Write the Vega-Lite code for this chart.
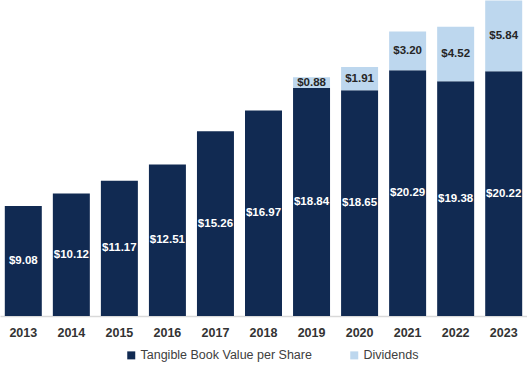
{
  "$schema": "https://vega.github.io/schema/vega-lite/v6.json",
  "width": 527,
  "height": 316,
  "padding": 0,
  "background": "white",
  "config": {"view": {"stroke": null}, "font": "Liberation Sans"},
  "data": {
    "values": [
      {"year": "2013", "series": "Tangible Book Value per Share", "value": 9.08},
      {"year": "2014", "series": "Tangible Book Value per Share", "value": 10.12},
      {"year": "2015", "series": "Tangible Book Value per Share", "value": 11.17},
      {"year": "2016", "series": "Tangible Book Value per Share", "value": 12.51},
      {"year": "2017", "series": "Tangible Book Value per Share", "value": 15.26},
      {"year": "2018", "series": "Tangible Book Value per Share", "value": 16.97},
      {"year": "2019", "series": "Tangible Book Value per Share", "value": 18.84},
      {"year": "2020", "series": "Tangible Book Value per Share", "value": 18.65},
      {"year": "2021", "series": "Tangible Book Value per Share", "value": 20.29},
      {"year": "2022", "series": "Tangible Book Value per Share", "value": 19.38},
      {"year": "2023", "series": "Tangible Book Value per Share", "value": 20.22},
      {"year": "2019", "series": "Dividends", "value": 0.88},
      {"year": "2020", "series": "Dividends", "value": 1.91},
      {"year": "2021", "series": "Dividends", "value": 3.20},
      {"year": "2022", "series": "Dividends", "value": 4.52},
      {"year": "2023", "series": "Dividends", "value": 5.84}
    ]
  },
  "transform": [
    {"stack": "value", "groupby": ["year"], "sort": [{"field": "series", "order": "descending"}], "as": ["v0", "v1"]},
    {"calculate": "(datum.v0 + datum.v1) / 2", "as": "mid"}
  ],
  "encoding": {
    "x": {
      "field": "year", "type": "nominal",
      "scale": {"paddingInner": 0.23, "paddingOuter": 0.1},
      "axis": {"title": null, "labelAngle": 0, "ticks": false, "domainColor": "#d9d9d9", "domainWidth": 1.5,
               "labelFontWeight": "bold", "labelFontSize": 12.5, "labelColor": "#333333", "labelPadding": 10, "labelFont": "Liberation Sans"}
    }
  },
  "layer": [
    {
      "mark": {"type": "bar"},
      "encoding": {
        "y": {"field": "v0", "type": "quantitative", "scale": {"domain": [0, 26.1], "nice": false}, "axis": null},
        "y2": {"field": "v1"},
        "color": {
          "field": "series", "type": "nominal",
          "scale": {"domain": ["Tangible Book Value per Share", "Dividends"], "range": ["#112a52", "#bdd7ee"]},
          "legend": {"title": null, "orient": "none", "legendX": 125, "legendY": 349, "direction": "horizontal",
                     "symbolType": "square", "symbolSize": 64, "labelFontSize": 12.5, "labelFont": "Liberation Sans",
                     "labelColor": "#404040", "columnPadding": 36, "labelOffset": 3, "symbolStrokeWidth": 0, "labelLimit": 0}
        }
      }
    },
    {
      "mark": {"type": "text", "fontWeight": "bold", "fontSize": 11.5, "font": "Liberation Sans", "baseline": "middle"},
      "encoding": {
        "y": {"field": "mid", "type": "quantitative"},
        "text": {"field": "value", "type": "quantitative", "format": "$.2f"},
        "color": {"condition": {"test": "datum.series === 'Dividends'", "value": "#262626"}, "value": "#ffffff"}
      }
    }
  ]
}
